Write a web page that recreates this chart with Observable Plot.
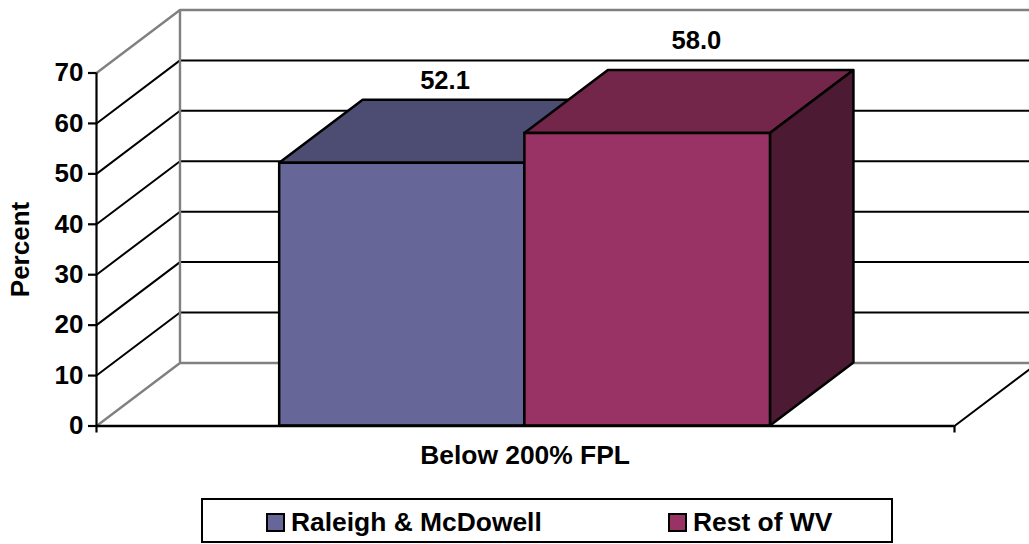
<!DOCTYPE html>
<html>
<head>
<meta charset="utf-8">
<script src="https://cdn.jsdelivr.net/npm/d3@7"></script>
<script src="https://cdn.jsdelivr.net/npm/@observablehq/plot@0.6"></script>
<style>
html,body{margin:0;padding:0;background:#fff;overflow:hidden;width:1029px;height:544px}
body{font-family:"Liberation Sans",Arial,sans-serif;font-weight:bold;color:#000}
svg{display:block}
#legend{position:relative;box-sizing:border-box;margin-left:201px;width:692px;height:45px;border:2px solid #000;font-size:26.4px;background:#fff}
#legend .item{position:absolute;top:10px;display:flex;align-items:center;gap:6px;height:24px;line-height:24px;white-space:nowrap}
#legend .sw{box-sizing:border-box;width:19px;height:19px;border:2.5px solid #000;display:inline-block}
</style>
</head>
<body>
<div id="chart"></div>
<div id="legend"></div>
<script>
const series = ["Raleigh & McDowell", "Rest of WV"];
const values = [52.1, 58.0];
const category = "Below 200% FPL";
const axisTitle = "Percent";
const yTicks = [0, 10, 20, 30, 40, 50, 60, 70];
const gridTicks = [10, 20, 30, 40, 50, 60];
const barEdges = [0.2135, 0.4993, 0.7855];
const frontColors = ["#666699", "#993366"];
const topColors = ["#4d4d73", "#732649"];
const sideColors = ["#4d4d73", "#4d1a33"];
const depthX = 0.0973;
const depthY = 12.5;
const wallGrey = "#808080";

const wallPath = v => [
  {x: 0, y: v},
  {x: depthX, y: v + depthY},
  {x: 1 + depthX, y: v + depthY}
];
const grid = gridTicks.flatMap(v => wallPath(v).map(p => ({...p, v})));
const labelX = i => (barEdges[i] + barEdges[i + 1]) / 2 + depthX / 2;

const barMarks = series.flatMap((s, i) => {
  const x0 = barEdges[i], x1 = barEdges[i + 1], v = values[i];
  return [
    Plot.areaX([
      {y: v, x1: x0, x2: x1},
      {y: v + depthY, x1: x0 + depthX, x2: x1 + depthX}
    ], {y: "y", x1: "x1", x2: "x2", fill: topColors[i], stroke: "#000", strokeWidth: 2.5, strokeLinejoin: "miter"}),
    Plot.areaY([
      {x: x1, y1: 0, y2: v},
      {x: x1 + depthX, y1: depthY, y2: v + depthY}
    ], {x: "x", y1: "y1", y2: "y2", fill: sideColors[i], stroke: "#000", strokeWidth: 2.5}),
    Plot.rect([{x1: x0, x2: x1, y1: 0, y2: v}], {x1: "x1", x2: "x2", y1: "y1", y2: "y2", fill: frontColors[i], stroke: "#000", strokeWidth: 2.5})
  ];
});

const chart = Plot.plot({
  width: 1029,
  height: 498,
  marginLeft: 96,
  marginRight: 75,
  marginTop: 72.5,
  marginBottom: 72.5,
  x: {domain: [0, 1]},
  y: {domain: [0, 70]},
  style: {fontFamily: "'Liberation Sans', Arial, sans-serif", fontWeight: "bold", fontSize: "25.6px", color: "#000", background: "#fff"},
  marks: [
    // walls
    Plot.line(grid, {x: "x", y: "y", z: "v", stroke: "#000", strokeWidth: 2}),
    Plot.line(wallPath(70), {x: "x", y: "y", stroke: wallGrey, strokeWidth: 2.4}),
    Plot.line(wallPath(0), {x: "x", y: "y", stroke: wallGrey, strokeWidth: 2.4}),
    Plot.ruleX([depthX], {y1: depthY, y2: 70 + depthY, stroke: wallGrey, strokeWidth: 2.4}),
    Plot.line([{x: 1, y: 0}, {x: 1 + depthX, y: depthY}], {x: "x", y: "y", stroke: "#000", strokeWidth: 2}),
    // bars
    ...barMarks,
    // axes
    Plot.ruleY([0], {stroke: "#000", strokeWidth: 2.6}),
    Plot.ruleX([0], {y1: 0, y2: 70, stroke: "#000", strokeWidth: 2.2}),
    Plot.axisY({ticks: yTicks, tickSize: 8, tickPadding: 5, strokeWidth: 2.2, fontSize: 26, label: null, tickFormat: d => String(d)}),
    Plot.axisX({ticks: [0, 1], tickSize: 7, tickPadding: 0, fill: "none", strokeWidth: 2.2, label: null}),
    // labels
    Plot.text([values[0]], {x: () => labelX(0), y: d => d + depthY, text: d => d.toFixed(1), dy: -19, dx: 1, fill: "#000"}),
    Plot.text([values[1]], {x: () => labelX(1), y: d => d + depthY, text: d => d.toFixed(1), dy: -30, dx: 7, fill: "#000"}),
    Plot.text([category], {x: () => 0.4995, y: () => 0, text: d => d, dy: 30, fontSize: 26.4, fill: "#000"}),
    Plot.text([axisTitle], {y: () => 35, frameAnchor: "left", textAnchor: "middle", text: d => d, rotate: -90, dx: -75.5, fontSize: 26, fill: "#000"})
  ]
});
document.getElementById("chart").append(chart);

const legend = document.getElementById("legend");
const lefts = [63, 465];
series.forEach((s, i) => {
  const item = document.createElement("div");
  item.className = "item";
  item.style.left = lefts[i] + "px";
  const sw = document.createElement("span");
  sw.className = "sw";
  sw.style.background = frontColors[i];
  const label = document.createElement("span");
  label.textContent = s;
  item.append(sw, label);
  legend.append(item);
});
</script>
</body>
</html>
